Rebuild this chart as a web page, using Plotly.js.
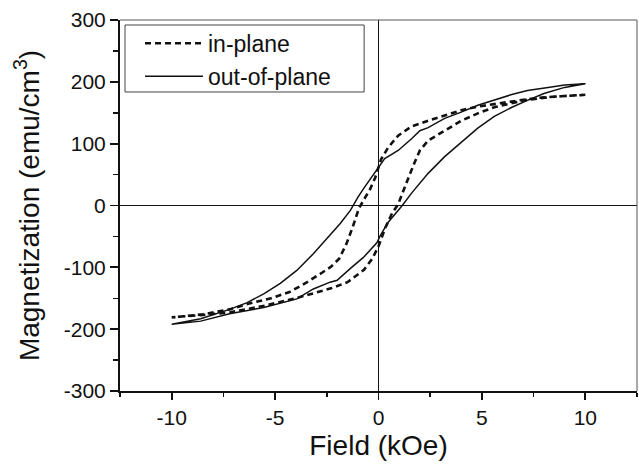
<!DOCTYPE html>
<html>
<head>
<meta charset="utf-8">
<script src="https://cdn.plot.ly/plotly-3.0.1.min.js"></script>
<style>
html,body{margin:0;padding:0;background:#fff;}
#chart{width:639px;height:465px;}
</style>
</head>
<body>
<div id="chart"></div>
<script>
// In-plane loop: descending branch (+10 -> -10) then ascending branch (-10 -> +10)
var inPlaneDescField = [10, 9, 8, 7.2, 6.4, 5.6, 4.8, 4.0, 3.2, 2.4, 1.6, 0.95, 0.47, 0.13, -0.16, -0.4, -0.73, -0.95, -1.25, -1.55, -1.9, -2.3, -2.7, -3.45, -4.3, -5.2, -6.3, -7.2, -8.5, -10];
var inPlaneDescM     = [179, 177, 175, 172, 168, 165, 160, 154, 146, 137, 128, 113, 94, 75, 45, 27, 8, -5, -35, -62, -86, -99, -108, -124, -140, -150, -159, -168, -176, -181];
var inPlaneAscField  = [-10, -8.5, -7.2, -5.5, -4.0, -3.15, -2.3, -1.5, -1.0, -0.7, -0.3, 0, 0.33, 0.65, 0.95, 1.2, 1.45, 1.75, 2.0, 2.4, 3.2, 4.0, 4.8, 5.6, 6.4, 7.2, 8.5, 10];
var inPlaneAscM      = [-181, -177, -173, -162, -150, -142, -134, -124, -112, -104, -86, -66, -36, -13, 2, 22, 45, 70, 89, 105, 121, 137, 149, 159, 165, 171, 176, 179];

// Out-of-plane loop
var outPlaneDescField = [10, 9, 8.2, 7.2, 6.4, 5.6, 4.8, 4.0, 3.2, 2.4, 2.0, 1.6, 0.95, 0.3, 0, -0.4, -0.73, -1.0, -1.36, -1.85, -2.34, -3.15, -3.95, -4.75, -5.55, -6.35, -7.2, -8.6, -10];
var outPlaneDescM     = [197, 195, 191, 186, 179, 170, 162, 151, 141, 126, 121, 108, 89, 76, 62, 44, 27, 13, -8, -29, -48, -78, -105, -126, -143, -157, -168, -183, -192];
var outPlaneAscField  = [-10, -8.6, -7.2, -5.55, -3.95, -3.15, -2.34, -2.0, -1.37, -0.73, -0.07, 0.08, 0.47, 1.15, 1.6, 2.4, 3.2, 4.0, 4.8, 5.6, 6.4, 7.2, 8.0, 9.0, 10];
var outPlaneAscM      = [-192, -187, -175, -165, -151, -135, -124, -121, -102, -84, -60, -49, -27, 0, 20, 52, 79, 102, 125, 144, 158, 170, 181, 191, 197];

var seriesNames = ['in-plane', 'out-of-plane'];
var xTickVals = [-10, -5, 0, 5, 10];
var yTickVals = [-300, -200, -100, 0, 100, 200, 300];

var font = 'Liberation Sans, Arial, Helvetica, sans-serif';

var traces = [
  {
    x: inPlaneDescField.concat(inPlaneAscField),
    y: inPlaneDescM.concat(inPlaneAscM),
    mode: 'lines', name: seriesNames[0],
    line: {color: '#111', width: 2.6, dash: '6px,4px'}
  },
  {
    x: outPlaneDescField.concat(outPlaneAscField),
    y: outPlaneDescM.concat(outPlaneAscM),
    mode: 'lines', name: seriesNames[1],
    line: {color: '#111', width: 1.5}
  }
];

var layout = {
  width: 639, height: 465,
  margin: {l: 120, r: 2, t: 20, b: 74, pad: 0},
  paper_bgcolor: '#fff', plot_bgcolor: '#fff',
  font: {family: font, color: '#111'},
  showlegend: true,
  legend: {
    x: 0.0387, y: 0.995, xanchor: 'left', yanchor: 'top',
    bgcolor: 'rgba(0,0,0,0)', borderwidth: 0,
    font: {family: font, size: 23, color: '#111'},
    itemwidth: 58, tracegroupgap: 0
  },
  xaxis: {
    range: [-12.5, 12.5], tickvals: xTickVals, ticktext: xTickVals.map(String),
    showgrid: false, zeroline: true, zerolinecolor: '#111', zerolinewidth: 1.6,
    showline: true, linecolor: '#111', linewidth: 2,
    ticks: 'outside', ticklen: 7, tickwidth: 1.8, tickcolor: '#111',
    minor: {ticks: 'outside', ticklen: 4, tickwidth: 1.5, tickcolor: '#111', dtick: 2.5, tick0: 0, showgrid: false},
    tickfont: {family: font, size: 21, color: '#111'},
    title: {text: 'Field (kOe)', font: {family: font, size: 28, color: '#111'}, standoff: 7}
  },
  yaxis: {
    range: [-300, 300], tickvals: yTickVals, ticktext: yTickVals.map(String),
    showgrid: false, zeroline: true, zerolinecolor: '#111', zerolinewidth: 1.6,
    showline: true, linecolor: '#111', linewidth: 2,
    ticks: 'outside', ticklen: 8, tickwidth: 1.8, tickcolor: '#111',
    minor: {ticks: 'outside', ticklen: 5, tickwidth: 1.5, tickcolor: '#111', dtick: 50, tick0: 0, showgrid: false},
    tickfont: {family: font, size: 21, color: '#111'},
    title: {text: 'Magnetization (emu/cm<sup>3</sup>)', font: {family: font, size: 28, color: '#111'}, standoff: 16}
  },
  shapes: [
    {type: 'line', xref: 'paper', yref: 'paper', x0: 0, x1: 1, y0: 1, y1: 1, line: {color: '#555', width: 1}},
    {type: 'line', xref: 'paper', yref: 'paper', x0: 1, x1: 1, y0: 0, y1: 1, line: {color: '#555', width: 1}},
    {type: 'rect', xref: 'paper', yref: 'paper', x0: 0.0097, x1: 0.4722, y0: 0.806, y1: 0.9865,
     fillcolor: '#fff', line: {color: '#444', width: 1}, layer: 'above'}
  ]
};

Plotly.newPlot('chart', traces, layout, {displayModeBar: false, staticPlot: true});
</script>
</body>
</html>
